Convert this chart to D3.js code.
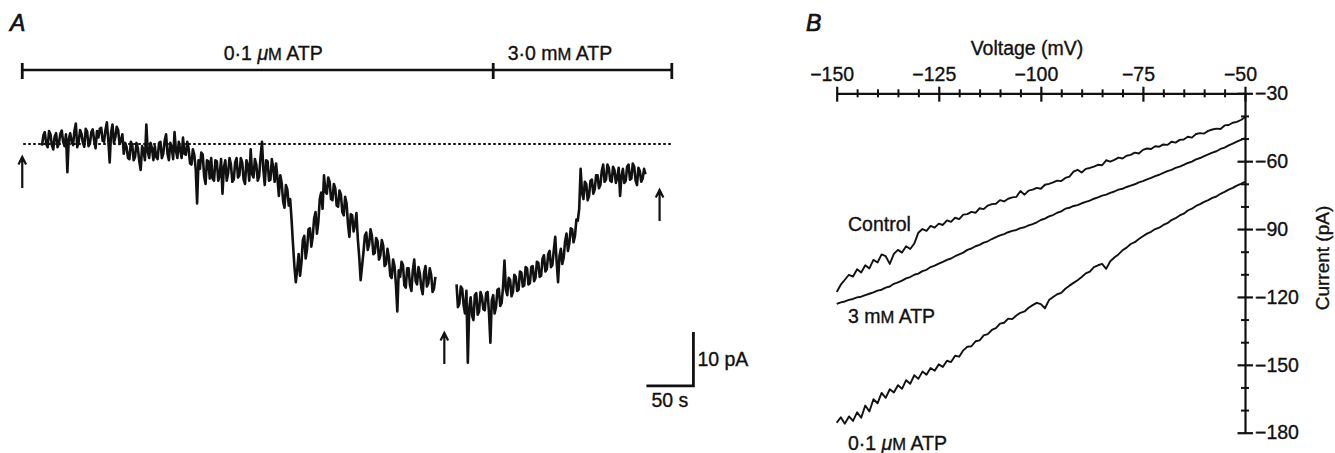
<!DOCTYPE html>
<html>
<head>
<meta charset="utf-8">
<script src="https://cdn.jsdelivr.net/npm/d3@7"></script>
<style>
  body { margin: 0; background: #fff; }
  svg { display: block; }
  text { font-family: "Liberation Sans", Arial, Helvetica, sans-serif; fill: #111; stroke: #111; stroke-width: 0.35px; }
</style>
</head>
<body>
<svg id="fig" width="1335" height="453"></svg>
<script>
// ---------------- Panel A: whole-cell current vs time ----------------
// Current in pA relative to the pre-drug level (dotted line = 0), sampled every 1.5 s.
const sampleStep = 1.5;
const segment1Start = 0;     // s
const segment2Start = 441;   // s (recording resumed after the I-V ramp)
const segment1 = [
  -0.3, 1.6, 2.2, 0.0, -0.6, 2.4, 1.8, -0.2, -1.0, 1.4, 2.0, -0.6, 0.1, 1.9, 2.5, 0.4, -0.4, 1.8, -5.2, 0.9,
  2.0, 0.4, -0.2, 2.4, 3.8, -0.6, 0.3, 2.6, 1.9, 0.2, -0.5, 2.8, 2.3, -0.4, 0.1, 2.2, 2.7, 0.6, -0.8, 2.4,
  1.2, 2.8, 3.0, 0.6, 0.4, 2.6, 4.0, 0.8, -3.4, 2.2, 3.6, 0.2, 1.2, 3.2, 2.6, 0.0, 0.6, 1.8, -1.8, 0.2,
  -0.6, -2.6, -2.8, 0.4, -0.2, -3.0, -2.4, 0.2, -0.8, -3.2, -4.8, -0.4, -1.2, -3.0, 3.6, -1.4, -2.6, 0.2, -0.8, -3.0,
  -0.4, -2.4, -2.8, 0.2, 0.4, -2.6, -1.8, 0.6, 1.8, -1.8, -3.0, 0.2, -0.6, -2.8, 2.2, -1.2, -2.6, 0.4, -1.0, -2.6,
  1.2, -1.8, -2.0, 0.4, -0.8, -3.6, -3.8, -1.0, -2.0, -4.6, -11.0, -3.0, -4.6, -1.6, -2.0, -6.0, -7.4, -3.0, -3.2, -6.4,
  -2.6, -6.4, -6.8, -3.0, -3.2, -6.8, -5.8, -2.8, -9.2, -4.4, -3.0, -6.8, -5.4, -2.6, -3.8, -7.0, -6.6, -3.4, -2.6, -6.2,
  -5.8, -2.6, -3.4, -6.6, -7.4, -3.0, -4.0, -6.8, -1.0, -5.6, -6.2, -2.8, -3.8, -6.8, -6.0, -2.4, 0.4, -4.8, -7.6, -3.0,
  -3.2, -6.8, -6.6, -2.8, -4.4, -7.0, -3.6, -6.4, -9.6, -5.8, -7.2, -10.6, -11.8, -7.6, -8.4, -11.4, -10.2, -14.0, -18.5, -22.6,
  -25.6, -23.2, -20.4, -24.4, -22.0, -17.8, -17.0, -21.2, -19.4, -15.8, -15.6, -19.0, -17.2, -13.8, -12.6, -16.6, -14.4, -10.2, -9.0, -12.0,
  -5.8, -8.8, -9.2, -6.2, -7.0, -10.2, -10.4, -7.4, -8.2, -11.4, -11.6, -8.6, -9.4, -12.6, -13.2, -9.8, -11.0, -14.8, -17.2, -13.0,
  -13.2, -16.2, -15.0, -12.8, -17.6, -21.0, -25.2, -22.6, -20.0, -17.0, -16.4, -19.6, -18.6, -15.8, -17.0, -20.4, -20.2, -17.4, -18.0, -21.4,
  -20.6, -17.8, -18.8, -22.6, -22.2, -19.4, -21.0, -24.4, -24.8, -21.4, -22.6, -26.0, -31.0, -23.4, -24.6, -21.8, -22.4, -26.2, -26.6, -23.0,
  -23.0, -26.2, -27.2, -23.4, -21.4, -25.4, -26.0, -22.8, -24.0, -26.6, -27.8, -23.8, -22.6, -26.4, -25.8, -23.0, -24.2, -27.4, -26.8, -24.6
];
const segment2 = [
  -26.0, -30.2, -29.6, -26.4, -26.8, -29.8, -31.4, -27.2, -40.5, -30.4, -28.4, -31.8, -32.6, -28.0, -27.6, -31.6, -31.0, -27.4, -28.2, -30.6,
  -30.8, -27.6, -27.4, -31.2, -36.8, -29.0, -28.0, -31.4, -30.2, -27.0, -26.8, -30.0, -29.4, -26.4, -21.6, -27.0, -28.0, -24.8, -25.2, -28.2,
  -27.4, -24.2, -24.6, -27.2, -27.0, -23.6, -23.8, -26.4, -26.2, -22.8, -23.0, -26.0, -25.8, -22.8, -22.6, -25.4, -24.8, -21.8, -22.0, -24.6,
  -24.4, -21.2, -20.6, -23.6, -23.2, -20.4, -19.8, -22.8, -22.4, -19.6, -17.2, -21.8, -25.6, -20.8, -19.4, -22.2, -21.0, -18.0, -16.6, -19.8,
  -18.4, -15.6, -15.8, -18.2, -17.0, -14.0, -14.2, -12.0, -4.6, -9.0, -10.2, -7.0, -7.4, -10.4, -9.6, -6.8, -6.6, -9.2, -8.4, -5.8,
  -5.8, -8.2, -7.6, -5.0, -3.8, -7.0, -6.6, -3.8, -4.4, -6.8, -7.0, -4.2, -4.8, -7.2, -6.2, -4.4, -9.6, -6.0, -4.6, -7.2,
  -6.8, -4.2, -3.8, -6.6, -6.4, -3.6, -4.2, -6.8, -7.6, -4.4, -5.0, -7.0, -6.4, -4.6, -5.6
];

// Solution bar: change times (s) and the solution names
const solutionEdges = [-21, 480, 670];
const solutionNames = [
  [{ t: "0·1 " }, { t: "μ", italic: true }, { t: "M", small: true }, { t: " ATP" }],
  [{ t: "3·0 m" }, { t: "M", small: true }, { t: " ATP" }]
];
const solutionLabelTimes = [246, 551];

// Arrows marking when the I-V ramps were taken (time, current at tip)
const arrowTimes = [-21, 428, 657];
const arrowTips = [-2.4, -35.0, -8.5];

// Calibration bar
const calTime = 50;      // s
const calCurrent = 10;   // pA

// ---------------- Panel B: I-V relations ----------------
const vStart = -150, vEnd = -50;   // ramp, one sample per mV
const iControl = [
  -117.8, -114.6, -112.4, -110.2, -111.0, -107.8, -109.2, -106.0, -107.4, -103.6,
  -104.8, -101.2, -102.0, -105.4, -101.0, -99.2, -100.4, -97.6, -98.8, -96.4,
  -91.6, -90.0, -90.8, -88.6, -89.4, -87.6, -88.2, -86.2, -86.8, -85.0,
  -85.6, -83.6, -83.4, -82.4, -82.8, -80.8, -81.2, -79.6, -79.0, -78.8,
  -77.2, -77.8, -76.6, -76.0, -75.8, -73.2, -74.8, -73.0, -72.6, -71.8,
  -72.2, -70.4, -70.0, -69.4, -68.6, -68.8, -67.4, -66.8, -64.6, -63.8,
  -65.0, -63.4, -63.0, -62.4, -61.6, -61.8, -59.6, -60.2, -59.4, -58.4,
  -58.8, -57.6, -57.2, -56.2, -56.6, -55.0, -54.4, -54.6, -53.4, -53.6,
  -52.6, -52.8, -51.4, -51.8, -50.6, -50.4, -49.2, -49.6, -48.0, -47.6,
  -47.8, -46.6, -46.0, -45.6, -45.8, -44.2, -44.0, -43.0, -42.6, -41.8,
  -40.6
];
const iATP3mM = [
  -123.1, -122.4, -122.0, -121.3, -120.9, -120.2, -119.9, -119.2, -118.6, -118.0,
  -117.2, -116.8, -115.9, -115.4, -114.2, -113.6, -112.8, -111.8, -111.2, -110.2,
  -109.7, -108.6, -108.0, -106.8, -106.2, -105.3, -104.5, -103.6, -103.0, -102.0,
  -101.2, -100.4, -99.2, -98.6, -97.6, -97.0, -96.0, -95.4, -94.4, -93.6,
  -92.8, -92.2, -91.4, -90.8, -90.4, -89.6, -89.2, -88.4, -87.8, -87.0,
  -86.0, -85.4, -84.4, -83.8, -82.8, -82.2, -81.0, -80.6, -79.8, -79.4,
  -78.6, -78.0, -77.4, -76.6, -76.0, -75.2, -74.8, -74.0, -73.4, -72.6,
  -72.2, -71.4, -70.8, -70.2, -69.4, -68.8, -68.0, -67.4, -66.6, -66.0,
  -65.2, -64.4, -63.8, -63.0, -62.4, -61.6, -60.8, -60.2, -59.2, -58.6,
  -57.8, -57.0, -56.2, -55.6, -54.6, -54.0, -53.0, -52.2, -51.4, -50.6,
  -49.8
];
const iATP01uM = [
  -175.6, -173.2, -176.0, -172.8, -174.8, -171.0, -173.4, -168.0, -170.6, -165.2,
  -167.0, -162.4, -164.6, -160.8, -162.2, -159.0, -160.6, -156.8, -158.4, -154.6,
  -156.2, -153.0, -154.4, -151.4, -152.6, -149.8, -151.0, -148.2, -148.8, -146.0,
  -146.4, -143.6, -142.0, -141.8, -139.6, -139.2, -137.0, -136.4, -134.6, -133.8,
  -131.8, -131.4, -129.6, -129.8, -128.2, -127.0, -126.4, -124.8, -123.6, -122.6,
  -123.2, -125.0, -121.4, -120.0, -118.8, -118.2, -116.4, -115.0, -113.8, -112.6,
  -111.2, -109.6, -108.8, -106.8, -106.0, -105.4, -107.6, -104.2, -102.6, -101.2,
  -99.4, -98.2, -96.6, -95.8, -94.4, -93.2, -92.0, -91.2, -90.0, -89.4,
  -88.2, -87.4, -86.0, -85.2, -84.0, -83.2, -81.8, -81.0, -79.8, -79.0,
  -78.0, -77.2, -76.2, -75.6, -74.4, -73.6, -72.6, -71.8, -70.8, -70.0,
  -69.1
];
const curveNames = [
  [{ t: "Control" }],
  [{ t: "3 m" }, { t: "M", small: true }, { t: " ATP" }],
  [{ t: "0·1 " }, { t: "μ", italic: true }, { t: "M", small: true }, { t: " ATP" }]
];

const vMajorTicks = [-150, -125, -100, -75, -50];
const vMinorStep = 5;
const iMajorTicks = [-30, -60, -90, -120, -150, -180];
const iMinorStep = 10;

// ---------------------------------------------------------------
const svg = d3.select("#fig");
const INK = "#111";
const FS = 19.5;

function richText(g, parts, x, y, anchor, size) {
  const fs = size || FS;
  const t = g.append("text").attr("x", x).attr("y", y)
    .attr("text-anchor", anchor || "start").attr("font-size", fs);
  parts.forEach(p => {
    const s = t.append("tspan").text(p.t);
    if (p.italic) s.attr("font-style", "italic");
    if (p.small) s.attr("font-size", fs * 0.85);
  });
  return t;
}

// ===== Panel A =====
const gA = svg.append("g");
const xA = d3.scaleLinear().domain([0, 700]).range([42, 42 + 658]);
const yA = d3.scaleLinear().domain([0, -10]).range([144, 198]);

gA.append("text").attr("x", 10).attr("y", 31)
  .attr("font-size", 23).attr("font-style", "italic").style("stroke-width", "0.7px").text("A");

// Solution bar
const barY = 70;
gA.append("line")
  .attr("x1", xA(solutionEdges[0])).attr("x2", xA(solutionEdges[solutionEdges.length - 1]))
  .attr("y1", barY).attr("y2", barY)
  .attr("stroke", INK).attr("stroke-width", 2.4);
gA.selectAll("line.edge").data(solutionEdges).join("line").attr("class", "edge")
  .attr("x1", d => xA(d)).attr("x2", d => xA(d))
  .attr("y1", barY - 7).attr("y2", barY + 9)
  .attr("stroke", INK).attr("stroke-width", 2.8);
solutionNames.forEach((parts, i) => {
  richText(gA, parts, xA(solutionLabelTimes[i]), 60, "middle");
});

// Zero-current reference
gA.append("line")
  .attr("x1", xA(-20)).attr("x2", xA(671))
  .attr("y1", yA(0)).attr("y2", yA(0))
  .attr("stroke", INK).attr("stroke-width", 1.8)
  .attr("stroke-dasharray", "2.6,2.4");

// Current trace
const traceLine = (start) => d3.line()
  .x((d, i) => xA(start + i * sampleStep))
  .y(d => yA(d));
[[segment1, segment1Start], [segment2, segment2Start]].forEach(([vals, start]) => {
  gA.append("path").datum(vals)
    .attr("d", traceLine(start))
    .attr("fill", "none").attr("stroke", INK)
    .attr("stroke-width", 2.6).attr("stroke-linejoin", "round");
});

// Arrows
const arrowLen = 31;
arrowTimes.forEach((t, i) => {
  const x = xA(t), y0 = yA(arrowTips[i]);
  gA.append("path")
    .attr("d", `M${x},${y0 + arrowLen}V${y0 + 1}M${x - 3.8},${y0 + 7.5}L${x},${y0}L${x + 3.8},${y0 + 7.5}`)
    .attr("fill", "none").attr("stroke", INK).attr("stroke-width", 2.2);
});

// Calibration bar
const calT0 = 643, calI0 = -44.8;
gA.append("path")
  .attr("d", `M${xA(calT0)},${yA(calI0)}H${xA(calT0 + calTime)}V${yA(calI0 + calCurrent)}`)
  .attr("fill", "none").attr("stroke", INK).attr("stroke-width", 2.8);
gA.append("text").attr("x", xA(calT0 + calTime) + 4).attr("y", 366)
  .attr("font-size", FS).text(`${calCurrent} pA`);
gA.append("text").attr("x", xA(calT0 + calTime / 2)).attr("y", 407)
  .attr("font-size", FS).attr("text-anchor", "middle").text(`${calTime} s`);

// ===== Panel B =====
const gB = svg.append("g");
const xB = d3.scaleLinear().domain([vStart, vEnd]).range([836.7, 1245]);
const yB = d3.scaleLinear().domain([-30, -180]).range([93.3, 432.7]);
const axisX = yB(-30), axisY = xB(-50);

gB.append("text").attr("x", 806).attr("y", 31)
  .attr("font-size", 23).attr("font-style", "italic").style("stroke-width", "0.7px").text("B");

// Voltage axis (top)
const minorV = d3.range(vStart, vEnd + 1, vMinorStep).filter(v => !vMajorTicks.includes(v));
gB.append("g").attr("transform", `translate(0,${axisX})`)
  .call(d3.axisTop(xB).tickValues(minorV).tickSize(0).tickFormat(""))
  .call(g => g.select(".domain").remove())
  .call(g => g.selectAll(".tick line").attr("y1", 4).attr("y2", -4)
    .attr("stroke", INK).attr("stroke-width", 2));
gB.append("g").attr("transform", `translate(0,${axisX})`)
  .call(d3.axisTop(xB).tickValues(vMajorTicks).tickSize(0).tickSizeOuter(0).tickPadding(12))
  .call(g => g.select(".domain").attr("stroke", INK).attr("stroke-width", 2.2))
  .call(g => g.selectAll(".tick line").attr("y1", 8.4).attr("y2", -6.6)
    .attr("stroke", INK).attr("stroke-width", 2.2))
  .call(g => g.selectAll(".tick text").attr("font-size", FS).attr("dx", -5)
    .attr("fill", INK).attr("font-family", null));
gB.append("text").attr("x", 1027).attr("y", 55)
  .attr("font-size", FS).attr("text-anchor", "middle").text("Voltage (mV)");

// Current axis (right)
const minorI = d3.range(-40, -171, -iMinorStep).filter(v => !iMajorTicks.includes(v));
gB.append("g").attr("transform", `translate(${axisY},0)`)
  .call(d3.axisRight(yB).tickValues(minorI).tickSize(0).tickFormat(""))
  .call(g => g.select(".domain").remove())
  .call(g => g.selectAll(".tick line").attr("x1", -4).attr("x2", 4)
    .attr("stroke", INK).attr("stroke-width", 2));
gB.append("g").attr("transform", `translate(${axisY},0)`)
  .call(d3.axisRight(yB).tickValues(iMajorTicks).tickSize(0).tickSizeOuter(0).tickPadding(10))
  .call(g => g.select(".domain").attr("stroke", INK).attr("stroke-width", 2.2))
  .call(g => g.selectAll(".tick line").attr("x1", -7.5).attr("x2", 8)
    .attr("stroke", INK).attr("stroke-width", 2.2))
  .call(g => g.selectAll(".tick text").attr("font-size", FS)
    .attr("fill", INK).attr("font-family", null));
gB.append("text")
  .attr("transform", `translate(1329,258) rotate(-90)`)
  .attr("font-size", 19).attr("text-anchor", "middle").text("Current (pA)");

// I-V curves
const ivLine = d3.line().x((d, i) => xB(vStart + i)).y(d => yB(d));
[iControl, iATP3mM, iATP01uM].forEach(vals => {
  gB.append("path").datum(vals).attr("d", ivLine)
    .attr("fill", "none").attr("stroke", INK)
    .attr("stroke-width", 1.9).attr("stroke-linejoin", "round");
});
const curveLabelY = [231, 323, 450];
curveNames.forEach((parts, k) => {
  richText(gB, parts, 848, curveLabelY[k], "start");
});
</script>
</body>
</html>
